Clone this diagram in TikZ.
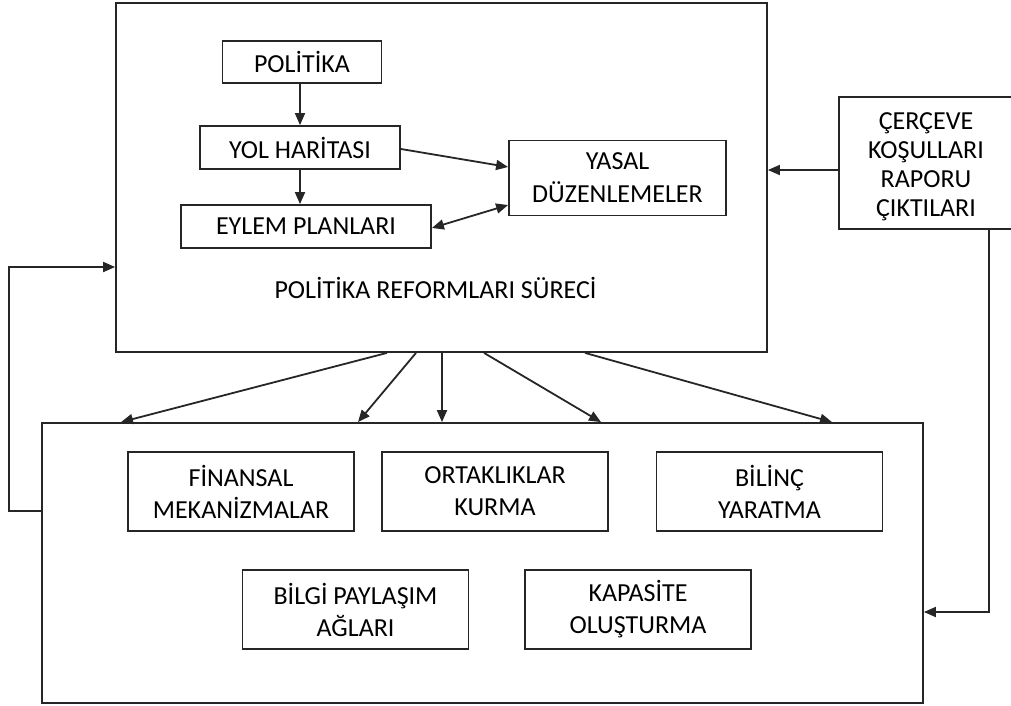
\documentclass[tikz,border=0pt]{standalone}
\usepackage{fontspec}
\setmainfont{Carlito}
\usetikzlibrary{arrows.meta,calc}
\begin{document}
\begin{tikzpicture}[x=1pt,y=-1pt,
  line width=1.8pt,
  every node/.style={font=\fontsize{26}{32}\selectfont, text=black, align=center},
  box/.style={draw=black!85, line width=1.8pt, inner sep=0pt},
  arr/.style={draw=black!85, -{Triangle[length=12pt,width=10pt]}},
  biarr/.style={draw=black!85, {Triangle[length=12pt,width=10pt]}-{Triangle[length=12pt,width=10pt]}}
]
\useasboundingbox (0,0) rectangle (1011,706);

% outer frames
\node[box, minimum width=651pt, minimum height=349pt] (top) at (441.5,177.5) {};
\node[box, minimum width=881pt, minimum height=280pt] (bot) at (482.5,563) {};

% policy reform process
\node[box, minimum width=159pt, minimum height=42pt] (pol) at (302,62) {POLİTİKA};
\node[box, minimum width=200pt, minimum height=43pt] (yol) at (300,147.5) {YOL HARİTASI};
\node[box, minimum width=250pt, minimum height=43pt] (eyl) at (306,226.5) {EYLEM PLANLARI};
\node[box, minimum width=217pt, minimum height=75pt,
      font=\fontsize{26}{33}\selectfont] (yas) at (617.5,178) {YASAL\\DÜZENLEMELER};
\node (lbl) at (435.5,288) {POLİTİKA REFORMLARI SÜRECİ};

% framework conditions report (frame runs past the right margin)
\node[box, minimum width=174pt, minimum height=132pt] (cond) at (926,163) {};
\node[font=\fontsize{26}{29}\selectfont] (condtxt) at (926,167)
      {ÇERÇEVE\\KOŞULLARI\\RAPORU\\ÇIKTILARI};

% implementation areas
\node[box, minimum width=226pt, minimum height=79pt] (fin) at (241,491.5) {FİNANSAL\\MEKANİZMALAR};
\node[box, minimum width=226pt, minimum height=79pt] (ort) at (495,491.5) {ORTAKLIKLAR\\KURMA};
\node[box, minimum width=226pt, minimum height=79pt] (bil) at (769.5,491.5) {BİLİNÇ\\YARATMA};
\node[box, minimum width=226pt, minimum height=79pt] (bpa) at (355.5,609.5) {BİLGİ PAYLAŞIM\\AĞLARI};
\node[box, minimum width=226pt, minimum height=79pt] (kap) at (638,609.5) {KAPASİTE\\OLUŞTURMA};

% arrows inside the process frame
\draw[arr] (pol.south -| yol.north) -- (yol.north);
\draw[arr] (yol.south) -- (yol.south |- eyl.north);
\draw[arr] ($(yol.east)+(0,1.5)$) -- ($(yas.west)+(0,-11)$);
\draw[biarr] ($(eyl.east)+(0,1.5)$) -- ($(yas.west)+(0,27)$);

% report feeding into the process and the areas
\coordinate (cin) at ($(cond.west)+(0,7)$);
\draw[arr] (cin) -- (cin -| top.east);
\coordinate (cturn) at (989,612);
\draw[arr] (cond.south -| cturn) -- (cturn) -- (cturn -| bot.east);

% feedback loop from the areas to the process
\coordinate (fbl) at (9,511);
\coordinate (fbu) at (9,267);
\draw[arr] (fbl -| bot.west) -- (fbl) -- (fbu) -- (fbu -| top.west);

% process outputs to the areas
\draw[arr] ($(top.south)+(-54.5,0)$) -- ($(bot.north)+(-361.5,0)$);
\draw[arr] ($(top.south)+(-25.5,0)$) -- ($(bot.north)+(-124.5,0)$);
\draw[arr] ($(top.south)+(0.5,0)$) -- ($(bot.north)+(-40.5,0)$);
\draw[arr] ($(top.south)+(42.5,0)$) -- ($(bot.north)+(118.5,0)$);
\draw[arr] ($(top.south)+(143.5,0)$) -- ($(bot.north)+(349.5,0)$);
\end{tikzpicture}
\end{document}
